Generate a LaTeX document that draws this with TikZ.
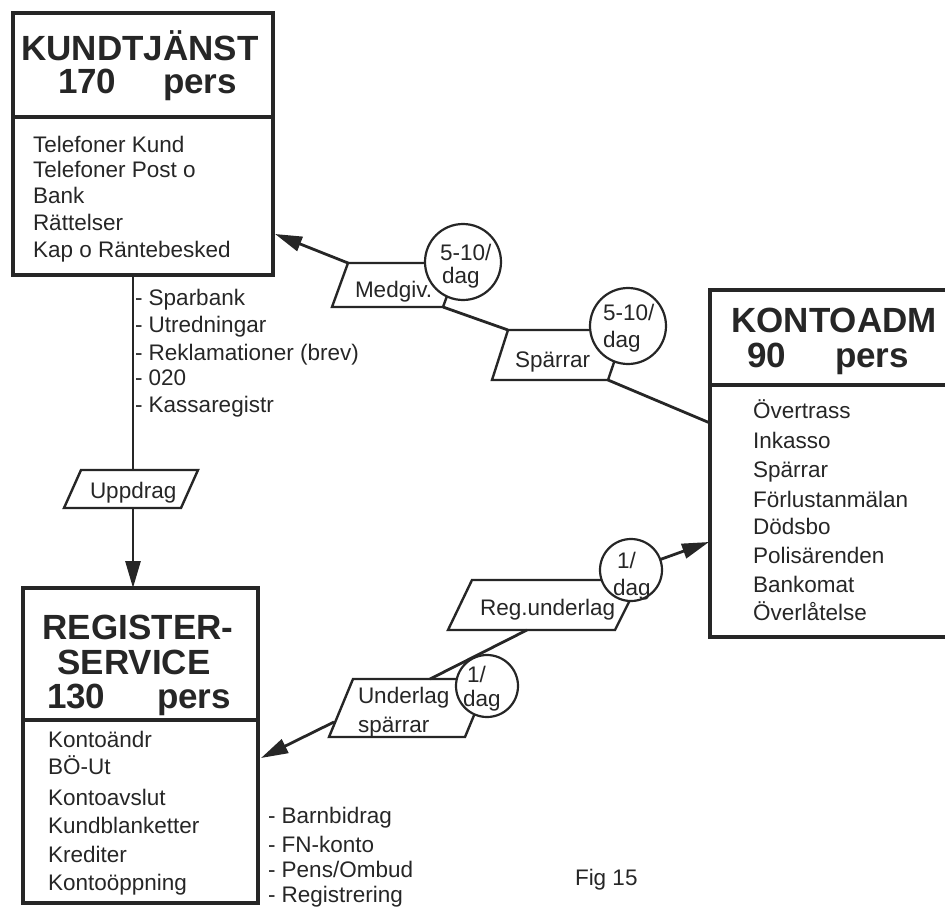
\documentclass[tikz,border=0pt]{standalone}
\usepackage{fontspec}
\setmainfont{Liberation Sans}
\usetikzlibrary{arrows.meta,calc}
\definecolor{ink}{HTML}{262626}
\begin{document}
\begin{tikzpicture}[x=1pt,y=-1pt,
  every node/.style={inner sep=0pt, outer sep=0pt, text=ink},
  frame/.style={draw=ink, line width=4pt},
  link/.style={draw=ink, line width=2.8pt},
  flow/.style={link, -{Triangle[length=27pt,width=15pt]}},
  slip/.style={draw=ink, line width=2.4pt, fill=white, line join=miter},
  rate/.style={circle, draw=ink, line width=2.2pt, fill=white, minimum size=76pt},
  smallrate/.style={rate, minimum size=62pt},
  head/.style={anchor=base, text height=26pt, text depth=3pt,
    font=\fontsize{35}{40}\selectfont\bfseries},
  headw/.style={head, anchor=base west},
  item/.style={anchor=base west, font=\fontsize{22.5}{27}\selectfont},
]
\useasboundingbox (0,0) rectangle (945,907);

% ---- department boxes ----
\node[frame, minimum width=260pt, minimum height=262pt] (kund) at (143,144) {};
\draw[frame] (kund.west |- 0,117) -- (kund.east |- 0,117);

\node[minimum width=235pt, minimum height=347pt] (konto) at (827.5,463.5) {};
\draw[frame, line join=miter] (konto.north east) -- (konto.north west) -- (konto.south west) -- (konto.south east);
\draw[frame] (konto.west |- 0,385) -- (konto.east |- 0,385);

\node[frame, minimum width=235pt, minimum height=315pt] (reg) at (140.5,745.5) {};
\draw[frame] (reg.west |- 0,720) -- (reg.east |- 0,720);

% ---- document slips ----
\coordinate (uppT) at (133,470);
\coordinate (uppB) at (133,508);
\draw[slip] (64,508) -- (181,508) -- (198,470) -- (81,470) -- cycle;

\coordinate (medTL) at (348,263);
\coordinate (medBR) at (443,307);
\draw[slip] (332,307) -- (medBR) -- (459,263) -- (medTL) -- cycle;

\coordinate (sparTL) at (508,330);
\coordinate (sparBR) at (608,380);
\draw[slip] (492,380) -- (sparBR) -- (625,330) -- (sparTL) -- cycle;

\coordinate (rundB) at (527,630);
\draw[slip] (448,630) -- (615,630) -- (640,580) -- (472,580) -- cycle;

\coordinate (undT) at (430,679);
\coordinate (undL) at (334,722);
\draw[slip] (329,737) -- (465,737) -- (489,679) -- (353,679) -- cycle;

% ---- frequency circles ----
\node[rate] (c1) at (463,262) {};
\node[rate] (c2) at (628,326) {};
\node[smallrate] (c3) at (631,570) {};
\node[smallrate] (c4) at (487,686) {};

% ---- connectors ----
\coordinate (kundIn) at (275,234);
\coordinate (kontoA) at (710,423);
\coordinate (kontoB) at (709,542);
\coordinate (regIn) at (261,758);

\draw[link] (kund.south -| uppT) -- (uppT);
\draw[flow] (uppB) -- (reg.north -| uppB);
\draw[flow] (medTL) -- (kundIn);
\draw[link] (medBR) -- (sparTL);
\draw[link] (sparBR) -- (kontoA);
\draw[flow] (c3) -- (kontoB);
\draw[link] (rundB) -- (undT);
\draw[flow] (undL) -- (regIn);

% ---- KUNDTJÄNST ----
\node[head] (kt) at (140,60) {KUNDTJÄNST};
\node[headw] (kn) at (58,93) {170};
\node[headw] (kp) at (163,93) {pers};
\node[item] (k1) at (33,152) {Telefoner Kund};
\node[item] (k2) at (33,177) {Telefoner Post o};
\node[item] (k3) at (33,203) {Bank};
\node[item] (k4) at (33,230) {Rättelser};
\node[item] (k5) at (33,257) {Kap o Räntebesked};

% ---- KONTOADM ----
\node[head] (ot) at (834,332) {KONTOADM};
\node[headw] (on) at (747,367) {90};
\node[headw] (op) at (835,367) {pers};
\node[item] (o1) at (753,418) {Övertrass};
\node[item] (o2) at (753,448) {Inkasso};
\node[item] (o3) at (753,477) {Spärrar};
\node[item] (o4) at (753,507) {Förlustanmälan};
\node[item] (o5) at (753,534) {Dödsbo};
\node[item] (o6) at (753,563) {Polisärenden};
\node[item] (o7) at (753,592) {Bankomat};
\node[item] (o8) at (753,620) {Överlåtelse};

% ---- REGISTERSERVICE ----
\node[head] (rt1) at (138,639) {REGISTER-};
\node[head] (rt2) at (134,674) {SERVICE};
\node[headw] (rn) at (47,708) {130};
\node[headw] (rp) at (157,708) {pers};
\node[item] (r1) at (48,747) {Kontoändr};
\node[item] (r2) at (48,774) {BÖ-Ut};
\node[item] (r3) at (48,805) {Kontoavslut};
\node[item] (r4) at (48,833) {Kundblanketter};
\node[item] (r5) at (48,862) {Krediter};
\node[item] (r6) at (48,890) {Kontoöppning};

% ---- side lists ----
\node[item] (s1) at (135,305) {- Sparbank};
\node[item] (s2) at (135,332) {- Utredningar};
\node[item] (s3) at (135,360) {- Reklamationer (brev)};
\node[item] (s4) at (135,385) {- 020};
\node[item] (s5) at (135,412) {- Kassaregistr};

\node[item] (b1) at (268,823) {- Barnbidrag};
\node[item] (b2) at (268,852) {- FN-konto};
\node[item] (b3) at (268,877) {- Pens/Ombud};
\node[item] (b4) at (268,902) {- Registrering};

\node[item] (fig) at (575,885) {Fig 15};

% ---- slip and circle labels ----
\node[item] (tu) at (90,498) {Uppdrag};
\node[item] (tm) at (355,297) {Medgiv.};
\node[item] (ts) at (515,367) {Spärrar};
\node[item] (tr) at (480,615) {Reg.underlag};
\node[item] (tu1) at (358,703) {Underlag};
\node[item] (tu2) at (358,732) {spärrar};

\node[item] (c1a) at (440,260) {5-10/};
\node[item] (c1b) at (442,283) {dag};
\node[item] (c2a) at (603,320) {5-10/};
\node[item] (c2b) at (603,347) {dag};
\node[item] (c3a) at (617,568) {1/};
\node[item] (c3b) at (613,595) {dag};
\node[item] (c4a) at (467,682) {1/};
\node[item] (c4b) at (463,706) {dag};
\end{tikzpicture}
\end{document}
